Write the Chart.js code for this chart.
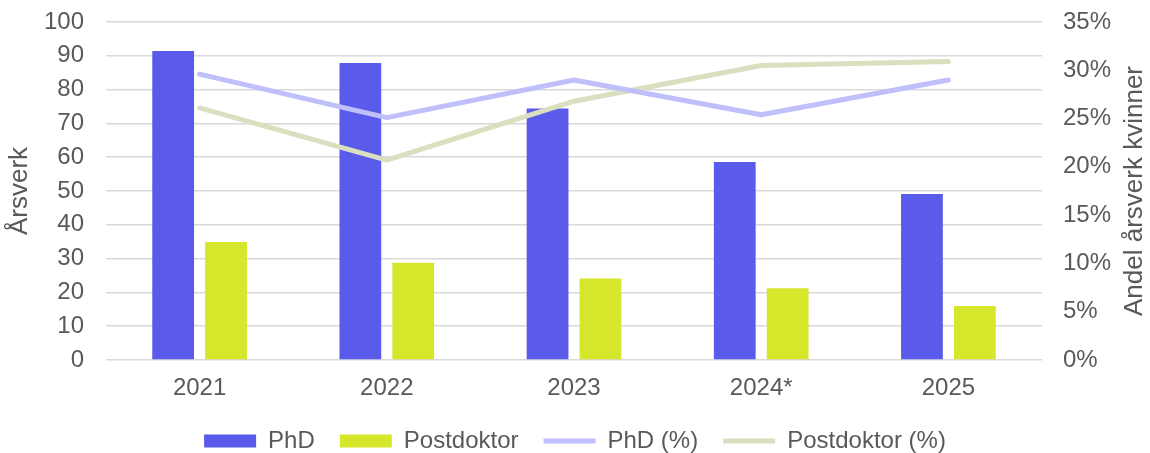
<!DOCTYPE html>
<html>
<head>
<meta charset="utf-8">
<script src="https://cdn.jsdelivr.net/npm/chart.js@4"></script>
<style>
  html, body { margin: 0; padding: 0; background: #fff; }
  #wrap { width: 1150px; height: 453px; }
</style>
</head>
<body>
<div id="wrap"><canvas id="chart" width="1150" height="453"></canvas></div>
<script>
// aar og verdier lest av figuren
const aar = ['2021', '2022', '2023', '2024*', '2025'];
const phd = [91.4, 87.9, 74.4, 58.6, 49.1];
const postdoktor = [34.9, 28.8, 24.1, 21.2, 16.0];
const phdAndel = [29.6, 25.1, 29.0, 25.4, 29.0];
const postdoktorAndel = [26.1, 20.7, 26.8, 30.5, 30.9];
const hoyreTittel = 'Andel årsverk kvinner';

const fontFam = '"Liberation Sans", Arial, sans-serif';
const tekst = '#595959';
const grid = '#d9d9d9';

// tittelen paa hoyre akse skal leses nedenfra og opp, som i Excel
const hoyreTittelPlugin = {
    id: 'hoyreTittel',
    afterDraw: function (chart) {
        const s = chart.scales.y1;
        const c = chart.ctx;
        c.save();
        c.translate(s.right - 15.6, (chart.chartArea.top + chart.chartArea.bottom) / 2);
        c.rotate(-Math.PI / 2);
        c.fillStyle = tekst;
        c.font = '26px ' + fontFam;
        c.textAlign = 'center';
        c.textBaseline = 'middle';
        c.fillText(hoyreTittel, 0, 0);
        c.restore();
    }
};

// fast bredde paa y-aksene, og mindre luft over oeverste tick
function fastBredde(b) {
    return function (s) {
        s.width = b;
        s.paddingTop = 22;
        s.paddingBottom = 0;
    };
}

var ctx = document.getElementById('chart');
var myChart = new Chart(ctx, {
    type: 'bar',
    data: {
        labels: aar,
        datasets: [
            { label: 'PhD', data: phd, backgroundColor: '#5b5beb', borderWidth: 0,
              yAxisID: 'y', order: 1, pointStyle: 'rect',
              categoryPercentage: 0.565, barPercentage: 0.79 },
            { label: 'Postdoktor', data: postdoktor, backgroundColor: '#d6e72b', borderWidth: 0,
              yAxisID: 'y', order: 1, pointStyle: 'rect',
              categoryPercentage: 0.565, barPercentage: 0.79 },
            { type: 'line', label: 'PhD (%)', data: phdAndel, borderColor: '#bfbffc',
              backgroundColor: '#bfbffc', borderWidth: 5, pointRadius: 0, tension: 0,
              borderCapStyle: 'round', borderJoinStyle: 'round',
              yAxisID: 'y1', order: 0, pointStyle: 'line' },
            { type: 'line', label: 'Postdoktor (%)', data: postdoktorAndel, borderColor: '#d9dfbf',
              backgroundColor: '#d9dfbf', borderWidth: 5, pointRadius: 0, tension: 0,
              borderCapStyle: 'round', borderJoinStyle: 'round',
              yAxisID: 'y1', order: 0, pointStyle: 'line' }
        ]
    },
    plugins: [hoyreTittelPlugin],
    options: {
        responsive: false,
        animation: false,
        layout: { padding: { left: 0, right: 0, top: 0, bottom: -10 } },
        plugins: {
            tooltip: { enabled: false },
            legend: {
                position: 'bottom',
                labels: {
                    usePointStyle: true,
                    pointStyleWidth: 52,
                    boxHeight: 13,
                    padding: 25,
                    color: tekst,
                    font: { family: fontFam, size: 24 },
                    sort: function (a, b) { return a.datasetIndex - b.datasetIndex; }
                }
            }
        },
        scales: {
            x: {
                grid: { display: false },
                border: { display: false },
                ticks: { color: tekst, font: { family: fontFam, size: 24 }, padding: 6 },
                afterFit: function (s) { s.height = 44; }
            },
            y: {
                position: 'left',
                min: 0, max: 100,
                ticks: { stepSize: 10, autoSkip: false, color: tekst, font: { family: fontFam, size: 24 }, padding: 22 },
                grid: { color: grid, lineWidth: 1.5, drawTicks: false },
                border: { display: false },
                title: { display: true, text: 'Årsverk', color: tekst, font: { family: fontFam, size: 26 },
                         padding: { top: 4, bottom: 0 } },
                afterFit: fastBredde(106)
            },
            y1: {
                position: 'right',
                min: 0, max: 35,
                ticks: { stepSize: 5, autoSkip: false, color: tekst, font: { family: fontFam, size: 24 }, padding: 21,
                         callback: function (v) { return v + '%'; } },
                grid: { display: false, drawTicks: false },
                border: { display: false },
                // plass holdes av, teksten tegnes av pluginen over
                title: { display: true, text: hoyreTittel, color: 'rgba(0,0,0,0)', font: { family: fontFam, size: 26 },
                         padding: { top: 0, bottom: 0 } },
                afterFit: fastBredde(108)
            }
        }
    }
});
</script>
</body>
</html>
